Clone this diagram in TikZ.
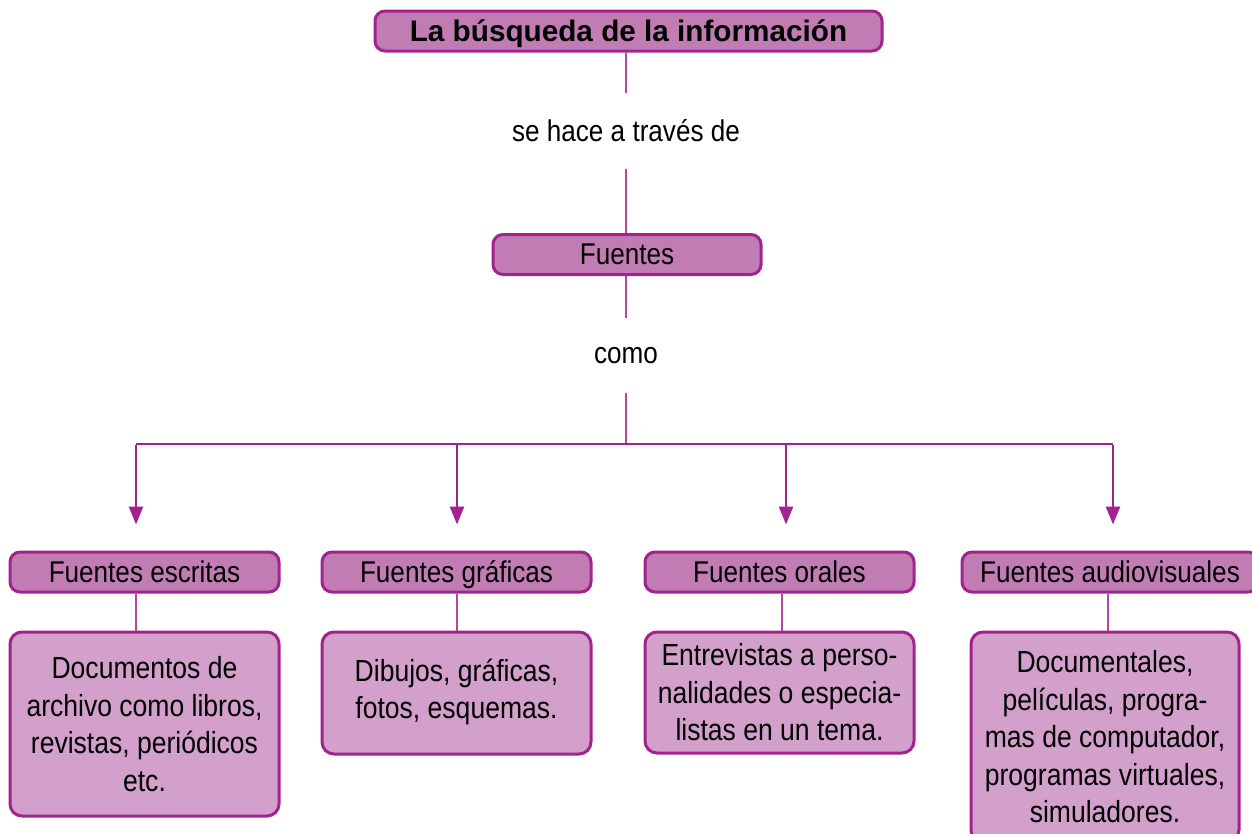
\documentclass[tikz,border=0pt]{standalone}
\usepackage{fontspec}
\setmainfont{Liberation Sans}[FakeStretch=0.87]
\newfontfamily\titlefont{Liberation Sans}
\usetikzlibrary{arrows.meta}
\definecolor{bordc}{RGB}{163,35,142}
\definecolor{headf}{RGB}{193,124,180}
\definecolor{detf}{RGB}{211,160,204}
\definecolor{linec}{RGB}{178,72,162}
\tikzset{
  headbox/.style={draw=bordc, line width=3pt, fill=headf, rounded corners=10pt,
    minimum height=40pt, inner sep=0pt, text height=25pt, text depth=5pt,
    font=\fontsize{30}{36}\selectfont},
  detbox/.style={draw=bordc, line width=3pt, fill=detf, rounded corners=12pt,
    minimum width=269pt, inner sep=0pt, align=center,
    font=\fontsize{30.5}{37.5}\selectfont},
  lbl/.style={inner sep=0pt, minimum height=75pt, font=\fontsize{30}{36}\selectfont},
  conn/.style={draw=linec, line width=2.4pt},
  arr/.style={draw=bordc, line width=2.5pt, -{Triangle[length=18pt,width=14pt]}}
}
\begin{document}
\begin{tikzpicture}[x=1pt,y=-1pt]
\useasboundingbox (0,0) rectangle (1252,833);
% top
\node[headbox, minimum width=507pt, text height=26pt, text depth=6pt, font=\titlefont\bfseries\fontsize{29.7}{34}\selectfont] (t) at (628.5,31) {La búsqueda de la información};
\node[lbl] (l1) at (626,131) {se hace a través de};
\node[headbox, minimum width=268pt] (f) at (627,254.5) {Fuentes};
\node[lbl] (l2) at (626,355.5) {como};
\draw[conn] (t.south -| l1.north) -- (l1.north);
\draw[conn] (l1.south) -- (l1.south |- f.north);
\draw[conn] (f.south -| l2.north) -- (l2.north);
\coordinate (b0) at (626,444);
\coordinate (b1) at (136,444);
\coordinate (b2) at (457,444);
\coordinate (b3) at (786,444);
\coordinate (b4) at (1113,444);
\draw[conn] (l2.south) -- (b0);
\draw[draw=bordc, line width=2.8pt] (b1) -- (b4);
% headers
\node[headbox, minimum width=269pt] (h1) at (144.5,572) {Fuentes escritas};
\node[headbox, minimum width=269pt] (h2) at (456.5,572) {Fuentes gráficas};
\node[headbox, minimum width=269pt] (h3) at (779.5,572) {Fuentes orales};
\node[headbox, minimum width=296pt] (h4) at (1110,572) {Fuentes audiovisuales};
\draw[arr, shorten >=26pt] ([yshift=-1.4pt]b1) -- (b1 |- h1.north);
\draw[arr, shorten >=26pt] (b2) -- (b2 |- h2.north);
\draw[arr, shorten >=26pt] (b3) -- (b3 |- h3.north);
\draw[arr, shorten >=26pt] ([yshift=-1.4pt]b4) -- (b4 |- h4.north);
% details
\node[detbox, minimum height=184pt] (d1) at (144.5,724) {Documentos de\\archivo como libros,\\revistas, periódicos\\etc.};
\node[detbox, minimum height=122pt, text depth=8pt] (d2) at (456.5,693) {Dibujos, gráficas,\\fotos, esquemas.};
\node[detbox, minimum height=121pt] (d3) at (779.5,692.5) {Entrevistas a perso-\\nalidades o especia-\\listas en un tema.};
\node[detbox, minimum width=268pt, minimum height=210pt] (d4) at (1105,737) {Documentales,\\películas, progra-\\mas de computador,\\programas virtuales,\\simuladores.};
\draw[conn] ([xshift=-8.5pt]h1.south) -- ([xshift=-8.5pt]d1.north);
\draw[conn] ([xshift=0.5pt]h2.south) -- ([xshift=0.5pt]d2.north);
\draw[conn] ([xshift=2.5pt]h3.south) -- ([xshift=2.5pt]d3.north);
\draw[conn] ([xshift=-2pt]h4.south) -- ([xshift=-2pt]h4.south |- d4.north);
\end{tikzpicture}
\end{document}
